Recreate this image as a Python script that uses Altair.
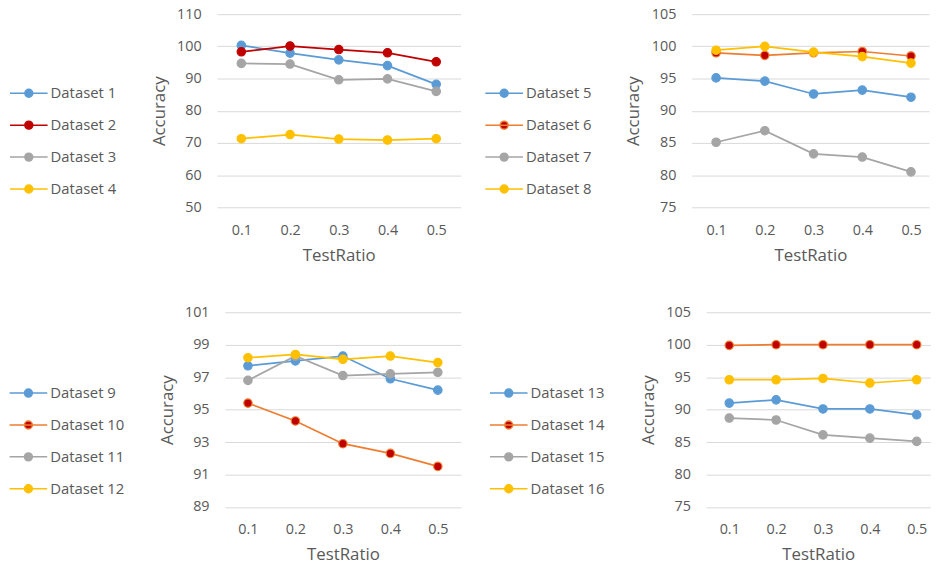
import altair as alt
import pandas as pd

ratios = [0.1, 0.2, 0.3, 0.4, 0.5]

names_a = ["Dataset 1", "Dataset 2", "Dataset 3", "Dataset 4"]
ds1 = [100.3, 97.9, 95.8, 94.0, 88.2]
ds2 = [98.3, 100.1, 99.0, 98.0, 95.2]
ds3 = [94.7, 94.5, 89.6, 89.9, 86.0]
ds4 = [71.3, 72.6, 71.2, 70.9, 71.3]

names_b = ["Dataset 5", "Dataset 6", "Dataset 7", "Dataset 8"]
ds5 = [95.1, 94.6, 92.6, 93.2, 92.1]
ds6 = [99.0, 98.6, 99.0, 99.2, 98.5]
ds7 = [85.1, 86.9, 83.3, 82.8, 80.5]
ds8 = [99.4, 100.0, 99.1, 98.4, 97.4]

names_c = ["Dataset 9", "Dataset 10", "Dataset 11", "Dataset 12"]
ds9 = [97.7, 98.0, 98.3, 96.9, 96.2]
ds10 = [95.4, 94.3, 92.9, 92.3, 91.5]
ds11 = [96.8, 98.3, 97.1, 97.2, 97.3]
ds12 = [98.2, 98.4, 98.1, 98.3, 97.9]

names_d = ["Dataset 13", "Dataset 14", "Dataset 15", "Dataset 16"]
ds13 = [91.0, 91.5, 90.1, 90.1, 89.2]
ds14 = [99.9, 100.0, 100.0, 100.0, 100.0]
ds15 = [88.7, 88.4, 86.1, 85.6, 85.1]
ds16 = [94.6, 94.6, 94.8, 94.1, 94.6]

yticks_a = [50, 60, 70, 80, 90, 100, 110]
yticks_b = [75, 80, 85, 90, 95, 100, 105]
yticks_c = [89, 91, 93, 95, 97, 99, 101]
yticks_d = [75, 80, 85, 90, 95, 100, 105]

BLUE = "#5B9BD5"
DRED = "#C00000"
ORANGE = "#ED7D31"
GRAY = "#A5A5A5"
YELLOW = "#FFC000"

FONT = "Open Sans"
TXT = "#595959"
GRID = "#D9D9D9"

LEGEND_PATH = ("M-1,0L1,0M-0.21,0A0.21,0.21,0,1,1,0.21,0"
               "A0.21,0.21,0,1,1,-0.21,0Z")


def panel(names, series, line_colors, fill_colors, ydom, yvals, xdom,
          width, height, legx, legy):
    rows = []
    for n, vals in zip(names, series):
        for r, v in zip(ratios, vals):
            rows.append({"ratio": r, "acc": v, "series": n})
    df = pd.DataFrame(rows)
    legend = alt.Legend(
        title=None, orient="none", legendX=legx, legendY=legy,
        direction="vertical", padding=0,
        symbolType=LEGEND_PATH, symbolSize=1444, symbolStrokeWidth=1.5,
        symbolOpacity=1, labelFont=FONT, labelFontSize=15,
        labelColor=TXT, rowPadding=4.2, labelOffset=2,
    )
    x = alt.X(
        "ratio:Q",
        scale=alt.Scale(domain=xdom, nice=False, zero=False),
        axis=alt.Axis(values=ratios, format=".1f", grid=False,
                      title="TestRatio", labelFlush=False),
    )
    y = alt.Y(
        "acc:Q",
        scale=alt.Scale(domain=ydom, nice=False, zero=False),
        axis=alt.Axis(values=yvals, grid=True, title="Accuracy",
                      labelFlush=False, labelOverlap=False),
    )
    stroke = alt.Stroke("series:N",
                        scale=alt.Scale(domain=names, range=line_colors),
                        legend=legend)
    fill = alt.Fill("series:N",
                    scale=alt.Scale(domain=names, range=fill_colors),
                    legend=legend)
    base = alt.Chart(df)
    lines = base.mark_line(strokeWidth=1.75).encode(
        x=x, y=y, stroke=stroke, order="ratio:Q")
    pts = base.mark_point(shape="circle", filled=True, size=72,
                          strokeWidth=1.2, opacity=1).encode(
        x=x, y=y, stroke=stroke, fill=fill)
    return alt.layer(lines, pts).properties(width=width, height=height)


def spacer(w):
    return alt.Chart(pd.DataFrame({"v": [0]})).mark_point(
        opacity=0).properties(width=w, height=1)


def indep(c):
    return c.resolve_scale(stroke="independent", fill="independent") \
            .resolve_legend(stroke="independent", fill="independent")


p1 = panel(names_a, [ds1, ds2, ds3, ds4],
           [BLUE, DRED, GRAY, YELLOW], [BLUE, DRED, GRAY, YELLOW],
           [50, 110], yticks_a, [0.05, 0.55], 246, 195, -210, 59.9)
p2 = panel(names_b, [ds5, ds6, ds7, ds8],
           [BLUE, ORANGE, GRAY, YELLOW], [BLUE, DRED, GRAY, YELLOW],
           [75, 105], yticks_b, [0.05, 0.537], 239.6, 195, -209.4, 59.9)
p3 = panel(names_c, [ds9, ds10, ds11, ds12],
           [BLUE, ORANGE, GRAY, YELLOW], [BLUE, DRED, GRAY, YELLOW],
           [89, 101], yticks_c, [0.0514, 0.5486], 238.3, 196.6, -218.4, 61.6)
p4 = panel(names_d, [ds13, ds14, ds15, ds16],
           [BLUE, ORANGE, GRAY, YELLOW], [BLUE, DRED, GRAY, YELLOW],
           [75, 105], yticks_d, [0.0508, 0.529], 226.3, 196.6, -219.4, 61.6)

top = indep(alt.hconcat(p1, p2, spacing=233.4, bounds="flush"))
bottom = indep(alt.hconcat(spacer(7.7), p3, spacer(246.7), p4,
                           spacing=0, bounds="flush"))

chart = indep(alt.vconcat(top, bottom, spacing=41)).properties(
    padding={"left": 0, "top": -4.5, "right": 0, "bottom": 0}
).configure_view(stroke=None).configure_axis(
    labelFont=FONT, labelFontSize=14.5, labelColor=TXT,
    titleFont=FONT, titleFontSize=17, titleFontWeight="normal",
    titleColor=TXT, domain=False, ticks=False, gridColor=GRID,
    gridWidth=1, labelPadding=16,
).configure_axisX(titlePadding=11).configure_axisY(titlePadding=8.5)

chart.save("out.html", embed_options={"renderer": "svg", "actions": False})
